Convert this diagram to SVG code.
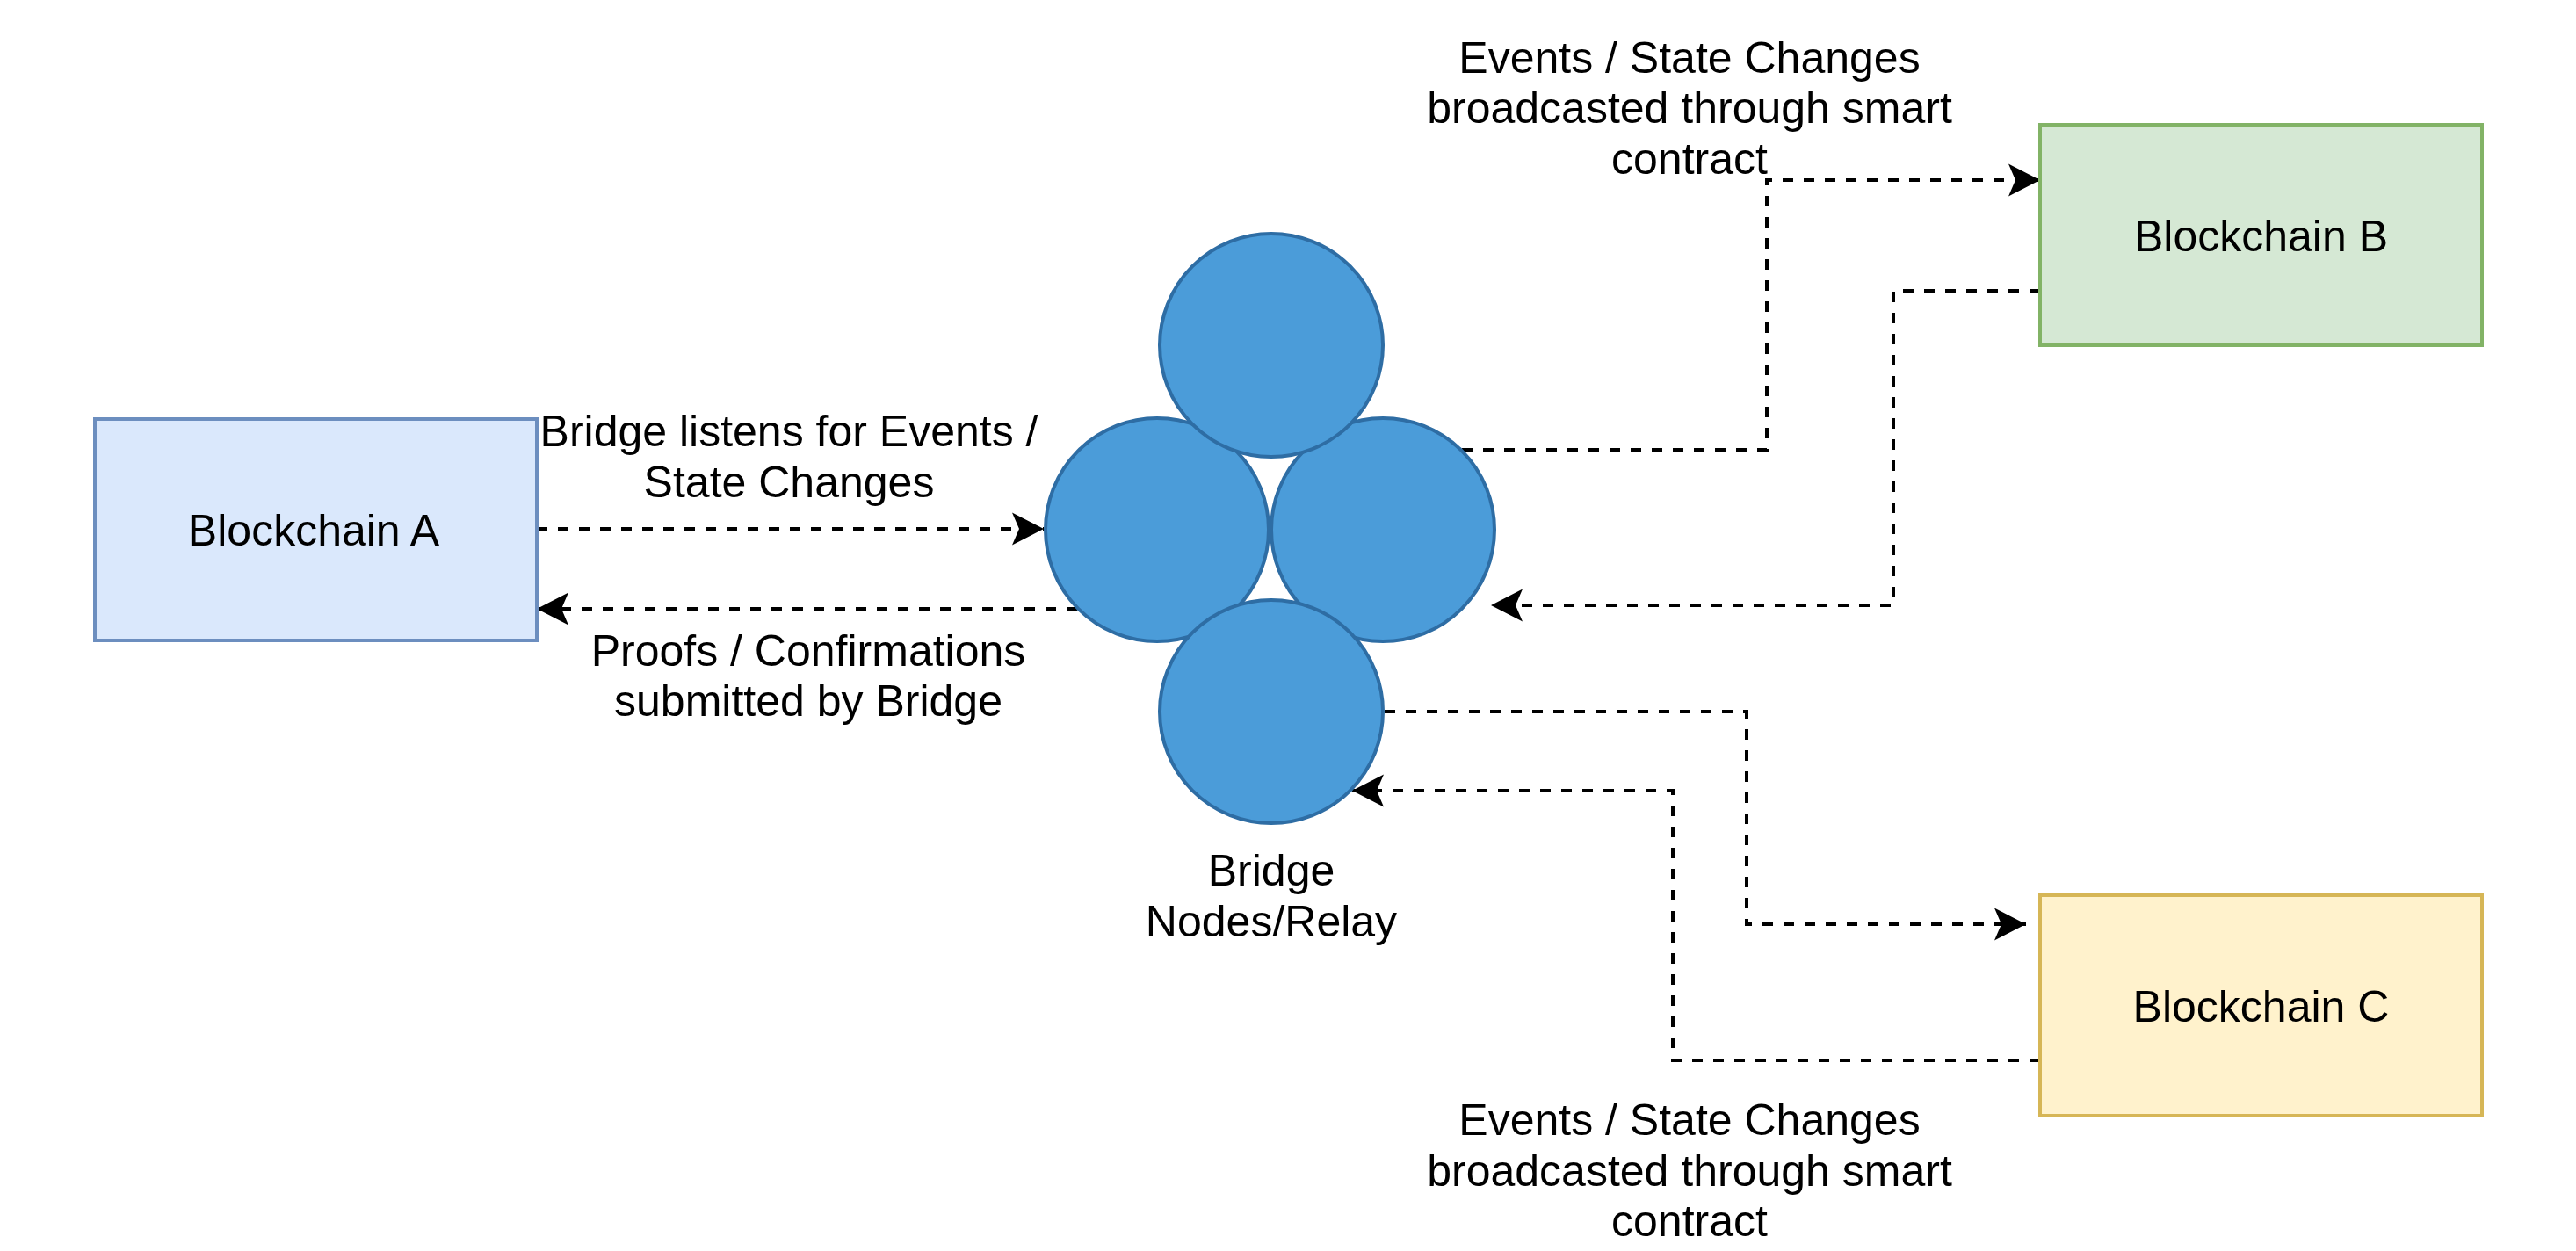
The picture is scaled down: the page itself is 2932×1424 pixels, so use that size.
<svg xmlns="http://www.w3.org/2000/svg" width="2932" height="1424" viewBox="0 0 2932 1424">
  <style>
    .t { font-family: "Liberation Sans", Arial, Helvetica, sans-serif; font-size: 50px; fill: #000000; text-anchor: middle; }
    .box { stroke-width: 4; }
    .node { fill: #4b9cd9; stroke: #2e6da4; stroke-width: 4; }
    .edge { fill: none; stroke: #000000; stroke-width: 4; stroke-dasharray: 12 12; marker-end: url(#arrow); }
  </style>
  <defs>
    <marker id="arrow" markerUnits="userSpaceOnUse" markerWidth="40" markerHeight="40" viewBox="-38 -20 40 40" refX="0" refY="0" orient="auto">
      <path d="M0,0 L-36,-18.5 L-28,0 L-36,18.5 Z" fill="#000000"/>
    </marker>
  </defs>
  <rect width="2932" height="1424" fill="#ffffff"/>

  <g id="connectors">
    <path class="edge" d="M611,602 H1188"/>
    <path class="edge" d="M1226,693 H611"/>
    <path class="edge" d="M1664,512 H2011 V205 H2322"/>
    <path class="edge" d="M2322,331 H2155 V689 H1697"/>
    <path class="edge" d="M1576,810 H1988 V1052 H2306"/>
    <path class="edge" d="M2322,1207 H1904 V900 H1539"/>
  </g>

  <g id="blockchain-a">
    <rect class="box" x="108" y="477" width="503" height="252" fill="#dae8fc" stroke="#6c8ebf"/>
    <text class="t" x="357" y="621">Blockchain A</text>
  </g>
  <g id="blockchain-b">
    <rect class="box" x="2322" y="142" width="503" height="251" fill="#d5e8d4" stroke="#82b366"/>
    <text class="t" x="2573.5" y="286">Blockchain B</text>
  </g>
  <g id="blockchain-c">
    <rect class="box" x="2322" y="1019" width="503" height="251" fill="#fff2cc" stroke="#d6b656"/>
    <text class="t" x="2573.5" y="1163">Blockchain C</text>
  </g>

  <g id="bridge-nodes">
    <circle class="node" cx="1317" cy="603" r="127"/>
    <circle class="node" cx="1574" cy="603" r="127"/>
    <circle class="node" cx="1447" cy="393" r="127"/>
    <circle class="node" cx="1447" cy="810" r="127"/>
    <text class="t" x="1447" y="1008">Bridge</text>
    <text class="t" x="1447" y="1066">Nodes/Relay</text>
  </g>

  <g id="label-listens">
    <text class="t" x="898" y="508">Bridge listens for Events /</text>
    <text class="t" x="898" y="566">State Changes</text>
  </g>
  <g id="label-proofs">
    <text class="t" x="920" y="758">Proofs / Confirmations</text>
    <text class="t" x="920" y="815">submitted by Bridge</text>
  </g>
  <g id="label-events-b">
    <text class="t" x="1923" y="83">Events / State Changes</text>
    <text class="t" x="1923" y="140">broadcasted through smart</text>
    <text class="t" x="1923" y="198">contract</text>
  </g>
  <g id="label-events-c">
    <text class="t" x="1923" y="1292">Events / State Changes</text>
    <text class="t" x="1923" y="1350">broadcasted through smart</text>
    <text class="t" x="1923" y="1407">contract</text>
  </g>
</svg>
